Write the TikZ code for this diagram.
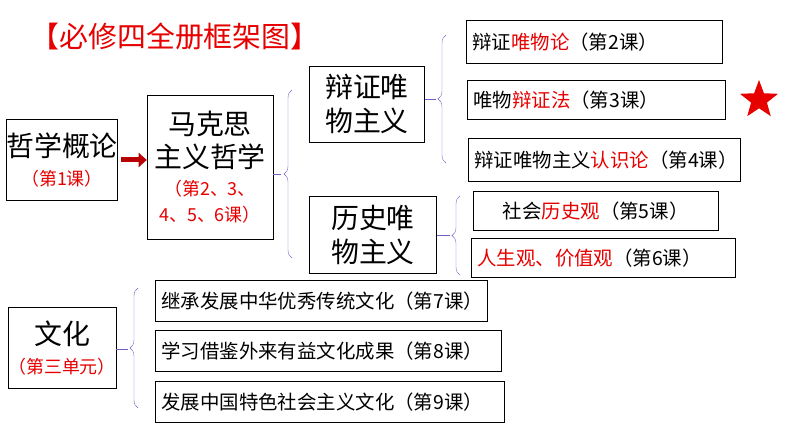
\documentclass[tikz,border=0pt]{standalone}
\usepackage{fontspec}
\setmainfont{Liberation Sans}
\newfontfamily\cjk{Noto Sans CJK SC}
\usetikzlibrary{decorations.pathreplacing,shapes.geometric,arrows.meta}
\definecolor{brcol}{RGB}{110,100,200}
\definecolor{hl}{RGB}{230,0,0}
\newcommand{\hl}[1]{\textcolor{hl}{#1}}
\newcommand{\smred}[1]{{\fontsize{18}{20}\selectfont\color{hl}#1}}
\begin{document}
\begin{tikzpicture}[x=1bp,y=-1bp,
  big box/.style={draw, semithick, align=center, inner sep=0pt, font=\cjk\fontsize{28}{34}\selectfont},
  lesson box/.style={draw, semithick, anchor=west, inner sep=0pt, minimum height=40bp, text width=#1, align=left, font=\cjk\fontsize{19.5}{22}\selectfont},
  grp brace/.style={draw=brcol, decorate, decoration={brace, amplitude=8bp}},
  grp line/.style={draw=brcol}]
\useasboundingbox (0,0) rectangle (794,447);
\node[font=\cjk\fontsize{29}{32}\selectfont, text=hl] (title) at (175,36) {【必修四全册框架图】};
% left column
\node[big box, minimum width=108bp, minimum height=81bp] (P1) at (62,160) {哲学概论\\[-4pt]\smred{（第1课）}};
\node[big box, minimum width=126bp, minimum height=144bp] (P2) at (210,167) {马克思\\主义哲学\\[-6pt]\smred{（第2、3、}\\[-8pt]\smred{4、5、6课）}};
\node[big box, minimum width=115bp, minimum height=76bp] (D) at (367,104) {辩证唯\\物主义};
\node[big box, minimum width=127bp, minimum height=77bp] (H) at (373,235) {历史唯\\物主义};
\node[big box, minimum width=108bp, minimum height=81bp] (C) at (62,348) {文化\\[-4pt]\smred{（第三单元）}};
% lessons
\node[lesson box=256bp, minimum height=43bp] (L2) at (466,42) {\hspace{6bp}辩证\hl{唯物论}（第2课）};
\node[lesson box=258bp, minimum height=39bp] (L3) at (467,100) {\hspace{6bp}唯物\hl{辩证法}（第3课）};
\node[lesson box=272bp, minimum height=43bp] (L4) at (468,160) {\hspace{6bp}辩证唯物主义\hl{认识论}（第4课）};
\node[lesson box=245bp, minimum height=39bp, align=center] (L5) at (473,211) {社会\hl{历史观}（第5课）};
\node[lesson box=264bp, minimum height=39bp] (L6) at (471,258) {\hspace{6bp}\hl{人生观、价值观}（第6课）};
\node[lesson box=332bp, minimum height=41bp] (L7) at (155,301) {\hspace{6bp}继承发展中华优秀传统文化（第7课）};
\node[lesson box=346bp, minimum height=41bp] (L8) at (155,351) {\hspace{6bp}学习借鉴外来有益文化成果（第8课）};
\node[lesson box=349bp, minimum height=41bp] (L9) at (155,402) {\hspace{6bp}发展中国特色社会主义文化（第9课）};
\node[star, star points=5, star point ratio=2.4, fill=hl, minimum size=40bp, inner sep=0pt] (S) at (759,100) {};
% arrow
\draw[hl!80!black, line width=5bp, -{Triangle[length=8bp,width=14bp]}] (P1.east) ++(3,0) coordinate (a0) -- (a0 -| P2.west);
% braces
\coordinate (B2) at (281,174);
\draw[grp line] (P2.east |- B2) -- (B2);
\draw[grp brace] (292,258) -- (292,90);
\coordinate (BD) at (436,99);
\draw[grp line] (D.east |- BD) -- (BD);
\draw[grp brace] (446,163) -- (446,35);
\coordinate (BH) at (450,235);
\draw[grp line] (H.east |- BH) -- (BH);
\draw[grp brace] (460,275) -- (460,196);
\coordinate (BC) at (128,349);
\draw[grp line] (C.east |- BC) -- (BC);
\draw[grp brace] (138,408) -- (138,288);
\end{tikzpicture}
\end{document}
